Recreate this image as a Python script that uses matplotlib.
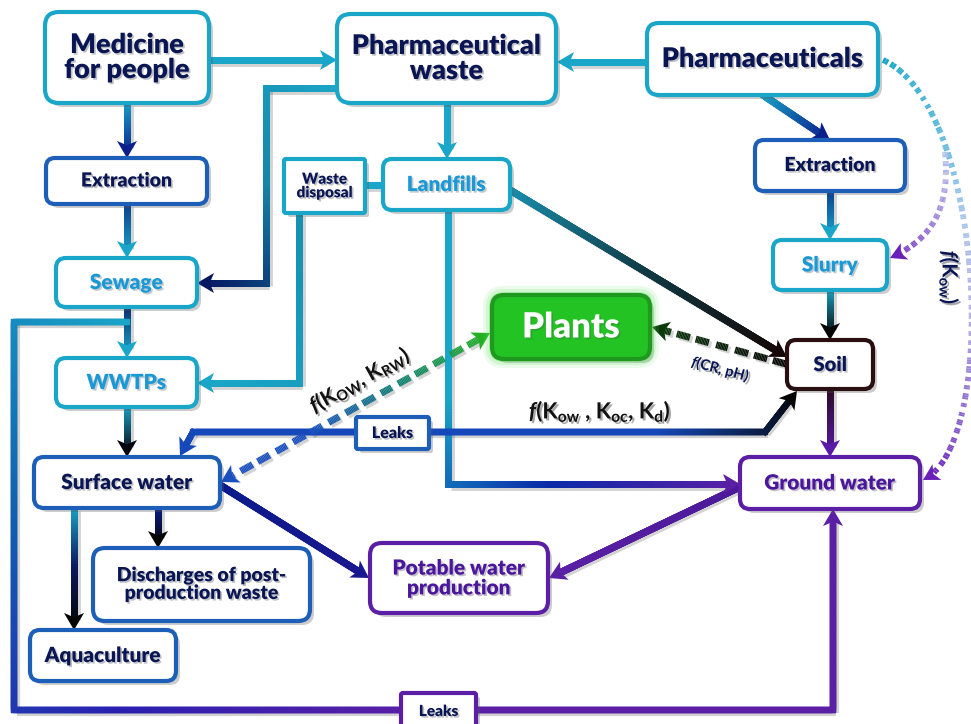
import numpy as np
import matplotlib.pyplot as plt
from matplotlib.patches import FancyBboxPatch, Polygon
from matplotlib.collections import LineCollection
from matplotlib.colors import to_rgb
import matplotlib.patheffects as pe

plt.rcParams['font.family'] = ['Lato', 'DejaVu Sans']
plt.rcParams['mathtext.fontset'] = 'custom'
plt.rcParams['mathtext.rm'] = 'Lato:bold'
plt.rcParams['mathtext.it'] = 'Lato:bold:italic'

# --- diagram content -------------------------------------------------------
node_keys = ['medicine', 'pwaste', 'pharma', 'extr_l', 'wdisp', 'landfill',
             'extr_r', 'slurry', 'sewage', 'wwtp', 'plants', 'soil', 'leaks1',
             'surface', 'ground', 'discharge', 'potable', 'aqua', 'leaks2']
node_labels = ['Medicine\nfor people', 'Pharmaceutical\nwaste', 'Pharmaceuticals',
               'Extraction', 'Waste\ndisposal', 'Landfills', 'Extraction', 'Slurry',
               'Sewage', 'WWTPs', 'Plants', 'Soil', 'Leaks', 'Surface water',
               'Ground water', 'Discharges of post-\nproduction waste',
               'Potable water\nproduction', 'Aquaculture', 'Leaks']

# flows between nodes (source, target, kind)
edges = [('medicine', 'pwaste', 'solid'), ('pharma', 'pwaste', 'solid'),
         ('medicine', 'extr_l', 'solid'), ('extr_l', 'sewage', 'solid'),
         ('sewage', 'wwtp', 'solid'), ('wwtp', 'surface', 'solid'),
         ('pwaste', 'sewage', 'solid'), ('wdisp', 'wwtp', 'solid'),
         ('landfill', 'wdisp', 'link'), ('pwaste', 'landfill', 'solid'),
         ('landfill', 'soil', 'solid'), ('landfill', 'ground', 'solid'),
         ('pharma', 'extr_r', 'solid'), ('extr_r', 'slurry', 'solid'),
         ('slurry', 'soil', 'solid'), ('soil', 'ground', 'solid'),
         ('soil', 'plants', 'dashed'), ('soil', 'surface', 'both'),
         ('plants', 'surface', 'dashed_both'), ('surface', 'potable', 'solid'),
         ('ground', 'potable', 'solid'), ('surface', 'discharge', 'solid'),
         ('surface', 'aqua', 'solid'), ('sewage', 'ground', 'solid'),
         ('pharma', 'ground', 'dotted'), ('pharma', 'slurry', 'dotted')]

# partition-coefficient annotations
coef_labels = [r'$\it{f}$(K$_{\rm OW}$, K$_{\rm RW}$)', r'$\it{f}$(CR, pH)',
               r'$\it{f}$(K$_{\rm ow}$ , K$_{\rm oc}$, K$_{\rm d}$)',
               r'$\it{f}$(K$_{\rm ow}$)']

# --- layout (pixel coordinates, y downwards) --------------------------------
CYAN, BLUE, NAVY, PURPLE = '#1aa6c8', '#1d5fb8', '#0a1654', '#5b1fa6'
LTXT = '#1b98d6'
boxes = {
    'medicine': (45, 12, 209, 103, CYAN, NAVY, 19.5, 14),
    'pwaste': (337, 14, 556, 103, CYAN, NAVY, 19.5, 14),
    'pharma': (647, 23, 878, 95, CYAN, NAVY, 19.5, 12),
    'extr_l': (46, 158, 207, 204, BLUE, NAVY, 14, 9),
    'wdisp': (284, 159, 365, 213, CYAN, NAVY, 11, 2),
    'landfill': (383, 159, 510, 210, CYAN, LTXT, 15, 9),
    'extr_r': (755, 140, 905, 191, BLUE, NAVY, 14, 9),
    'slurry': (773, 240, 887, 290, CYAN, LTXT, 15, 9),
    'sewage': (56, 258, 197, 307, CYAN, LTXT, 15, 10),
    'wwtp': (56, 358, 197, 407, CYAN, LTXT, 15, 10),
    'plants': (492, 295, 650, 359, '#1f9a1f', 'white', 25, 12),
    'soil': (787, 340, 873, 389, '#2a0f10', NAVY, 14.5, 9),
    'leaks1': (356, 417, 429, 449, BLUE, NAVY, 11.5, 2),
    'surface': (34, 457, 220, 508, BLUE, NAVY, 15, 10),
    'ground': (740, 457, 920, 509, PURPLE, '#4a169c', 15, 10),
    'discharge': (93, 548, 310, 621, BLUE, NAVY, 14, 12),
    'potable': (370, 543, 548, 613, PURPLE, '#4a169c', 15, 12),
    'aqua': (30, 630, 176, 681, BLUE, NAVY, 15, 10),
    'leaks2': (401, 693, 476, 730, PURPLE, NAVY, 11, 2),
}

routes = {
    ('medicine', 'pwaste'): ([(209, 60), (337, 60)], [CYAN, CYAN]),
    ('pharma', 'pwaste'): ([(647, 62), (557, 62)], [CYAN, CYAN]),
    ('medicine', 'extr_l'): ([(127, 103), (127, 158)], [CYAN, '#0a1e8c']),
    ('extr_l', 'sewage'): ([(127, 204), (127, 258)], ['#0a3a8a', CYAN]),
    ('sewage', 'wwtp'): ([(127, 307), (127, 358)], ['#0a2a6a', CYAN]),
    ('wwtp', 'surface'): ([(127, 407), (127, 457)], [CYAN, '#05050f']),
    ('pwaste', 'sewage'): ([(337, 88), (266, 88), (266, 283), (197, 283)],
                           [CYAN, '#1585a8', '#061660']),
    ('wdisp', 'wwtp'): ([(299, 213), (299, 383), (197, 383)], ['#1590b0', CYAN]),
    ('landfill', 'wdisp'): ([(365, 185), (383, 185)], [CYAN, CYAN]),
    ('pwaste', 'landfill'): ([(447, 103), (447, 159)], [CYAN, CYAN]),
    ('landfill', 'soil'): ([(510, 190), (787, 357)], ['#1a8fb0', '#0f3a44', '#150505']),
    ('landfill', 'ground'): ([(448, 210), (448, 484), (740, 484)],
                             [CYAN, CYAN, '#0a2aa8', PURPLE]),
    ('pharma', 'extr_r'): ([(763, 95), (830, 140)], [CYAN, '#0a1e8c']),
    ('extr_r', 'slurry'): ([(830, 191), (830, 240)], ['#0a3a8a', CYAN]),
    ('slurry', 'soil'): ([(830, 290), (830, 340)], [CYAN, '#050505']),
    ('soil', 'ground'): ([(830, 389), (830, 457)], ['#2a0a20', '#5a1aa8']),
    ('soil', 'plants'): ([(786, 364), (652, 327)], ['#050505', '#0a3a0a']),
    ('soil', 'surface'): ([(797, 391), (765, 432), (193, 432), (180, 456)],
                          ['#050505', '#1548b8', '#1548b8', '#1548b8', '#1548b8']),
    ('plants', 'surface'): ([(490, 333), (221, 482)], ['#22b022', '#108070', '#1a4fc0', '#1a4fc0']),
    ('surface', 'potable'): ([(220, 485), (369, 578)], ['#0a1a8a', '#1a1890']),
    ('ground', 'potable'): ([(740, 487), (549, 578)], ['#4a1a98', PURPLE]),
    ('surface', 'discharge'): ([(158, 508), (158, 548)], ['#0a1e8c', '#050505']),
    ('surface', 'aqua'): ([(74, 508), (74, 630)], [CYAN, '#0a1a60', '#050505']),
    ('sewage', 'ground'): ([(127, 322), (14, 322), (14, 710), (833, 710), (833, 509)],
                           [CYAN, '#1060b0', '#2a20b0', PURPLE, PURPLE, PURPLE]),
}
curves = {
    ('pharma', 'ground'): ([(883, 60), (985, 105), (1000, 445), (923, 480)],
                           ['#1aa6c8', '#5ab8dc', '#a8c4ea', '#b4aee4', '#9070d0', '#6a20b8']),
    ('pharma', 'slurry'): ([(945, 152), (950, 205), (935, 238), (890, 258)],
                           ['#b8c6ee', '#9a80d8', '#6a20b8']),
}


def mix(colors, t):
    # piecewise linear interpolation between colour stops
    cs = np.array([to_rgb(c) for c in colors])
    pos = np.linspace(0, 1, len(cs))
    return np.stack([np.interp(t, pos, cs[:, k]) for k in range(3)], axis=-1)


def resample(pts, step=1.5):
    pts = np.asarray(pts, float)
    out = [pts[0]]
    for a, b in zip(pts[:-1], pts[1:]):
        n = max(int(np.hypot(*(b - a)) / step), 1)
        for i in range(1, n + 1):
            out.append(a + (b - a) * i / n)
    return np.array(out)


def bezier(ctrl, n=120):
    p0, p1, p2, p3 = [np.array(c, float) for c in ctrl]
    t = np.linspace(0, 1, n)[:, None]
    return (1 - t) ** 3 * p0 + 3 * (1 - t) ** 2 * t * p1 + 3 * (1 - t) * t ** 2 * p2 + t ** 3 * p3


def head(ax, tip, direction, color, hl, hw, z):
    d = direction / np.hypot(*direction)
    perp = np.array([-d[1], d[0]])
    base = tip - d * hl
    ax.add_patch(Polygon([tip, base + perp * hw / 2, tip - d * hl * 0.75, base - perp * hw / 2],
                         closed=True, fc=color, ec='none', zorder=z + 0.1))


def flow(ax, pts, colors, lw=5.0, end=True, start=False, dash=None,
         hl=17, hw=20, z=2, shadow=True):
    pts = np.asarray(pts, float).copy()
    p = resample(pts)
    seg = np.hypot(*np.diff(p, axis=0).T)
    s = np.concatenate([[0], np.cumsum(seg)])
    total = s[-1]
    d_end = p[-1] - p[-4]
    d_start = p[0] - p[3]
    # trim the line under arrowheads
    lo = hl * 0.7 if start else 0
    hi = total - (hl * 0.7 if end else 0)
    mid = (s[:-1] + s[1:]) / 2
    keep = (mid > lo) & (mid < hi)
    if dash:
        on, off = dash
        keep &= ((mid - lo) % (on + off)) < on
    segs = np.stack([p[:-1], p[1:]], axis=1)[keep]
    cols = mix(colors, mid[keep] / total)
    if shadow:
        ax.add_collection(LineCollection(segs + [2.5, 2.5], colors=(0.3, 0.3, 0.3, 0.25),
                                         linewidths=lw, capstyle='butt', zorder=z - 0.1))
    ax.add_collection(LineCollection(segs, colors=cols, linewidths=lw,
                                     capstyle='butt' if dash else 'projecting', zorder=z))
    if end:
        head(ax, p[-1], d_end, mix(colors, 1.0), hl, hw, z)
    if start:
        head(ax, p[0], d_start, mix(colors, 0.0), hl, hw, z)


text_fx = [pe.SimplePatchShadow(offset=(1.2, -1.2), alpha=0.25), pe.Normal()]


def box(ax, key, label):
    x0, y0, x1, y1, edge, tcol, size, r = boxes[key]
    w, h = x1 - x0, y1 - y0
    style = f"round,pad=0,rounding_size={r}"
    ax.add_patch(FancyBboxPatch((x0 + 4, y0 + 4), w, h, boxstyle=style,
                                fc='0.35', ec='none', alpha=0.3, zorder=5))
    if key == 'plants':
        # soft green glow
        for g, a in [(9, 0.12), (6, 0.18), (3, 0.3)]:
            ax.add_patch(FancyBboxPatch((x0 - g, y0 - g), w + 2 * g, h + 2 * g,
                                        boxstyle=f"round,pad=0,rounding_size={r + g}",
                                        fc='#5fe05f', ec='none', alpha=a, zorder=5.1))
        fc, lw = '#22c322', 3
    else:
        fc, lw = 'white', 3
    ax.add_patch(FancyBboxPatch((x0, y0), w, h, boxstyle=style, fc=fc, ec=edge,
                                lw=lw, zorder=6))
    ax.text((x0 + x1) / 2, (y0 + y1) / 2, label, ha='center', va='center',
            fontsize=size, fontweight='heavy', color=tcol, linespacing=1.05, zorder=7,
            path_effects=text_fx)


fig = plt.figure(figsize=(9.71, 7.24), dpi=100)
ax = fig.add_axes([0, 0, 1, 1])
ax.set_xlim(0, 971)
ax.set_ylim(724, 0)
ax.axis('off')

for src, dst, kind in edges:
    if kind == 'dotted':
        ctrl, cols = curves[(src, dst)]
        flow(ax, bezier(ctrl), cols, lw=4.2, dash=(5, 4), hl=16, hw=18, shadow=False)
        continue
    pts, cols = routes[(src, dst)]
    lw = 4.5 if (src, dst) == ('sewage', 'ground') else 5.0
    if kind == 'solid':
        flow(ax, pts, cols, lw=lw)
    elif kind == 'link':
        flow(ax, pts, cols, lw=lw, end=False)
    elif kind == 'both':
        flow(ax, pts, cols, lw=4.5, start=True)
    elif kind == 'dashed':
        flow(ax, pts, cols, lw=5, dash=(13, 7))
    elif kind == 'dashed_both':
        flow(ax, pts, cols, lw=5, dash=(13, 7), start=True)

for key, label in zip(node_keys, node_labels):
    box(ax, key, label)

shadow_fx = [pe.SimplePatchShadow(offset=(1.5, -1.5), alpha=0.35), pe.Normal()]
coef_pos = [(360, 380, 29, 15, '#111111'), (721, 369, -15, 10.5, NAVY),
            (600, 411, 0, 16, '#111111'), (949, 278, -90, 15, NAVY)]
for text, (x, y, rot, size, col) in zip(coef_labels, coef_pos):
    ax.text(x, y, text, ha='center', va='center', rotation=rot, fontsize=size,
            color=col, fontweight='bold', zorder=8, path_effects=shadow_fx)

fig.savefig('out.png', dpi=100)
